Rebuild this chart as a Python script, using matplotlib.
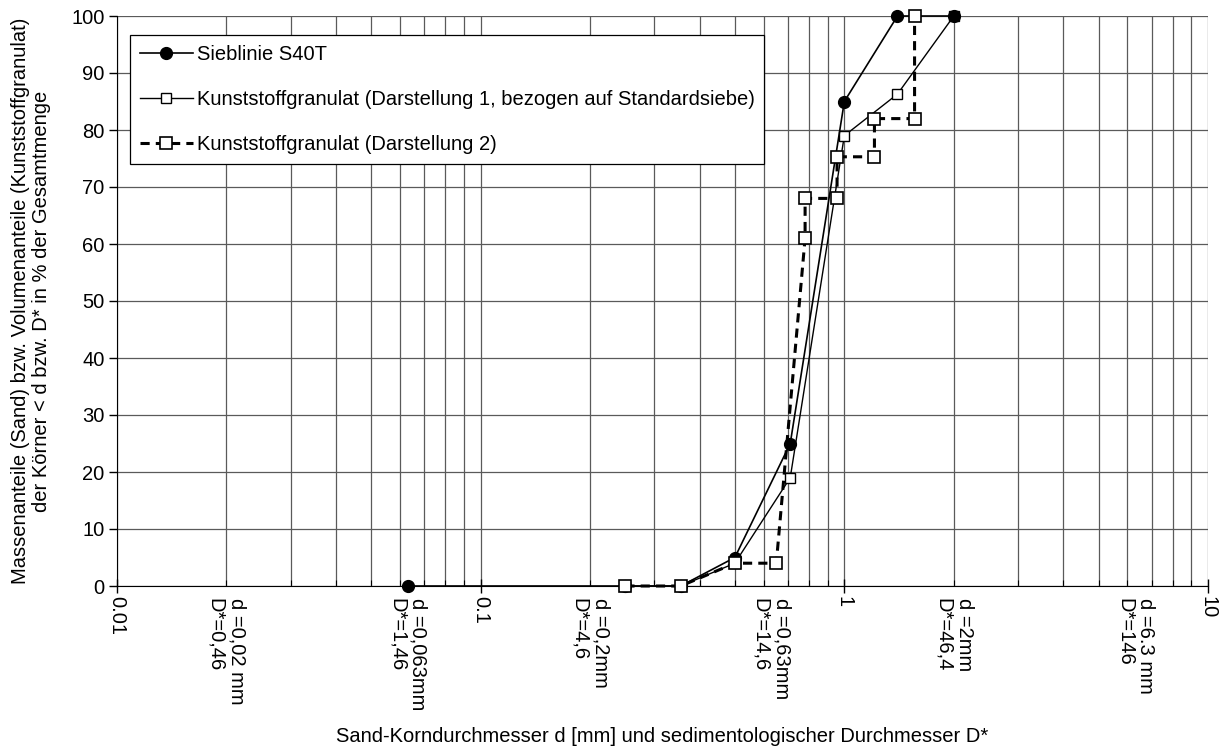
import matplotlib
matplotlib.use("Agg")
import matplotlib.pyplot as plt
from matplotlib.ticker import LogLocator, NullFormatter, FixedLocator, FixedFormatter

plt.rcParams['font.family'] = ['Liberation Sans', 'DejaVu Sans']

# Data
sieb_x = [0.063, 0.25, 0.355, 0.5, 0.71, 1.0, 1.4, 2.0]
sieb_y = [0, 0, 0, 5, 25, 85, 100, 100]

kg1_x = [0.25, 0.355, 0.5, 0.71, 1.0, 1.4, 2.0]
kg1_y = [0, 0, 4, 19, 79, 86.3, 100]

kg2_x = [0.25, 0.355, 0.5, 0.65, 0.78, 0.78, 0.955, 0.955, 1.21, 1.21, 1.56, 1.56]
kg2_y = [0, 0, 4, 4, 61, 68, 68, 75.3, 75.3, 82, 82, 100]

labels = ["Sieblinie S40T",
          "Kunststoffgranulat (Darstellung 1, bezogen auf Standardsiebe)",
          "Kunststoffgranulat (Darstellung 2)"]

major_ticks = [0.01, 0.1, 1, 10]
major_labels = ["0.01", "0.1", "1", "10"]
extra_pos = [0.02, 0.063, 0.2, 0.63, 2.0, 6.3]
extra_labels = ["d =0,02 mm\nD*=0,46", "d =0,063mm\nD*=1,46", "d =0,2mm\nD*=4,6",
                "d =0,63mm\nD*=14,6", "d =2mm\nD*=46,4", "d =6.3 mm\nD*=146"]
y_ticks = list(range(0, 101, 10))

FS = 14.5

fig = plt.figure(figsize=(12.2, 7.51), dpi=100)
ax = fig.add_axes([117/1220, 1-586/751, (1208-117)/1220, (586-16)/751])

ax.set_xscale('log')
ax.set_xlim(0.01, 10)
ax.set_ylim(0, 100)

ax.xaxis.set_major_locator(FixedLocator(major_ticks))
ax.xaxis.set_major_formatter(FixedFormatter(major_labels))
ax.xaxis.set_minor_locator(LogLocator(base=10, subs=range(2, 10)))
ax.xaxis.set_minor_formatter(NullFormatter())
ax.set_yticks(y_ticks)

ax.grid(True, which='both', axis='x', color='#5a5a5a', lw=0.9)
ax.grid(True, which='major', axis='y', color='#5a5a5a', lw=0.9)
ax.set_axisbelow(True)

ax.plot(sieb_x, sieb_y, '-', color='black', lw=1.2, marker='o', ms=8.5,
        mfc='black', mec='black', label=labels[0], zorder=4, clip_on=False)
ax.plot(kg1_x, kg1_y, '-', color='black', lw=1.0, marker='s', ms=7,
        mfc='white', mec='black', mew=1.0, label=labels[1], zorder=3, clip_on=False)
ax.plot(kg2_x, kg2_y, '--', color='black', lw=2.2, dashes=(3, 2), marker='s', ms=8.5,
        mfc='white', mec='black', mew=1.2, label=labels[2], zorder=5, clip_on=False)

for s in ['top', 'right']:
    ax.spines[s].set_visible(False)
ax.spines['left'].set_color('black')
ax.spines['bottom'].set_color('black')

ax.tick_params(axis='x', which='major', direction='inout', length=10, width=1,
               labelsize=FS, labelrotation=-90, pad=2)
ax.tick_params(axis='x', which='minor', direction='in', length=4, width=0.8)
ax.tick_params(axis='y', which='major', direction='out', length=6, width=1,
               labelsize=FS, pad=3)
for t in ax.get_xticklabels():
    t.set_verticalalignment('top')

trans = ax.get_xaxis_transform()
for xp, lab in zip(extra_pos, extra_labels):
    ax.text(xp, -0.021, lab, transform=trans, rotation=-90, ha='center', va='top',
            fontsize=FS, multialignment='left', linespacing=1.15)

ax.set_xlabel("Sand-Korndurchmesser d [mm] und sedimentologischer Durchmesser D*",
              fontsize=FS)
ax.xaxis.set_label_coords(0.5, -(737-586)/570)
ax.xaxis.label.set_verticalalignment('center')
ax.set_ylabel("Massenanteile (Sand) bzw. Volumenanteile (Kunststoffgranulat)\n"
              "der Körner < d bzw. D* in % der Gesamtmenge", fontsize=FS,
              multialignment='center', linespacing=1.1)
ax.yaxis.label.set_verticalalignment('center')
ax.yaxis.set_label_coords(-(117-31)/1091, 0.5)

leg = ax.legend(loc='upper left', bbox_to_anchor=(0.012, 0.967), borderaxespad=0,
                fontsize=FS, frameon=True, fancybox=False, edgecolor='black',
                framealpha=1, labelspacing=1.3, handlelength=2.6, handletextpad=0.2,
                borderpad=0.5)
leg.get_frame().set_linewidth(0.9)

fig.savefig("out.png", dpi=100)
